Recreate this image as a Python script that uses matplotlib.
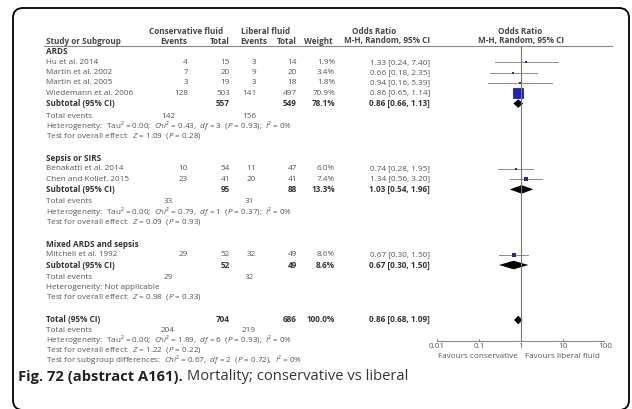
import matplotlib
matplotlib.use("Agg")
import matplotlib.pyplot as plt
from matplotlib.patches import FancyBboxPatch
import numpy as np

plt.rcParams['font.family'] = ['Open Sans', 'DejaVu Sans']
plt.rcParams['mathtext.fontset'] = 'custom'
plt.rcParams['mathtext.rm'] = 'Open Sans'
plt.rcParams['mathtext.it'] = 'Open Sans:italic'
plt.rcParams['mathtext.bf'] = 'Open Sans:bold'

# subgroups and the studies in them
groups = ["ARDS", "Sepsis or SIRS", "Mixed ARDS and sepsis"]
studies = [["Hu et al. 2014", "Martin et al. 2002", "Martin et al. 2005", "Wiedemann et al. 2006"],
           ["Benakatti et al. 2014", "Chen and Kollef. 2015"],
           ["Mitchell et al. 1992"]]
cons_events = [[4, 7, 3, 128], [10, 23], [29]]
cons_total = [[15, 20, 19, 503], [54, 41], [52]]
lib_events = [[3, 9, 3, 141], [11, 20], [32]]
lib_total = [[14, 20, 18, 497], [47, 41], [49]]
weights = [[1.9, 3.4, 1.8, 70.9], [6.0, 7.4], [8.6]]
odds = [[1.33, 0.66, 0.94, 0.86], [0.74, 1.34], [0.67]]
ci_low = [[0.24, 0.18, 0.16, 0.65], [0.28, 0.56], [0.30]]
ci_high = [[7.40, 2.35, 5.39, 1.14], [1.95, 3.20], [1.50]]

# subtotals
sub_cons_total = [557, 95, 52]
sub_lib_total = [549, 88, 49]
sub_cons_events = [142, 33, 29]
sub_lib_events = [156, 31, 32]
sub_weight = [78.1, 13.3, 8.6]
sub_or = [0.86, 1.03, 0.67]
sub_low = [0.66, 0.54, 0.30]
sub_high = [1.13, 1.96, 1.50]
sub_het = [("0.00", "0.43", "3", "0.93", "0"), ("0.00", "0.79", "1", "0.37", "0"), None]
sub_z = [("1.09", "0.28"), ("0.09", "0.93"), ("0.98", "0.33")]

# overall
total_cons_total = 704
total_lib_total = 686
total_cons_events = 204
total_lib_events = 219
total_weight = 100.0
total_or = 0.86
total_low = 0.68
total_high = 1.09
total_het = ("0.00", "1.89", "6", "0.93", "0")
total_z = ("1.22", "0.22")
subgroup_diff = ("0.67", "2", "0.72", "0")

ticks = [0.01, 0.1, 1, 10, 100]
tick_labels = ["0.01", "0.1", "1", "10", "100"]

fig = plt.figure(figsize=(6.32, 4.09), dpi=100)
ax = fig.add_axes([0, 0, 1, 1])
ax.set_xlim(0, 632)
ax.set_ylim(409, 0)
ax.axis('off')

# forest part: log axis from 0.01 to 100 between x=437 and x=605
fx = fig.add_axes([437 / 632, 0, 168 / 632, 1])
fx.set_xscale('log')
fx.set_xlim(0.01, 100)
fx.set_ylim(409, 0)
fx.axis('off')

fs = 5.9
c_txt = '#555555'
c_bold = '#333333'
c_head = '#444444'


def txt(x, y, s, ha='left', bold=False, size=fs, color=None):
    ax.text(x, y, s, ha=ha, va='center', fontsize=size,
            fontweight='bold' if bold else 'normal',
            color=color or (c_bold if bold else c_txt))


def het_str(h):
    return ("Heterogeneity:  Tau² = %s;  $Chi$² = %s,  $df$ = %s  ($P$ = %s);  $I$² = %s%%" % h)


def z_str(z):
    return "Test for overall effect:  $Z$ = %s  ($P$ = %s)" % z


def diamond(y, est, lo, hi, h=4.3):
    fx.fill([lo, est, hi, est], [y, y - h, y, y + h], color='black', lw=0)


# column positions
x_name = 46
x_ce, x_ct, x_le, x_lt, x_w, x_ci = 188, 230, 256, 297, 335, 430
x_te_c, x_te_l = 168, 249

# header
txt(186, 31, "Conservative fluid", ha='center', bold=True, color=c_head)
txt(266, 31, "Liberal fluid", ha='center', bold=True, color=c_head)
txt(374, 31, "Odds Ratio", ha='center', bold=True, color=c_head)
txt(520, 31, "Odds Ratio", ha='center', bold=True, color=c_head)
txt(x_name, 41, "Study or Subgroup", bold=True, color=c_head)
txt(187, 41, "Events", ha='right', bold=True, color=c_head)
txt(230, 41, "Total", ha='right', bold=True, color=c_head)
txt(267, 41, "Events", ha='right', bold=True, color=c_head)
txt(297, 41, "Total", ha='right', bold=True, color=c_head)
txt(333, 41, "Weight", ha='right', bold=True, color=c_head)
txt(430, 41, "M-H, Random, 95% CI", ha='right', bold=True, color=c_head)
txt(521, 41, "M-H, Random, 95% CI", ha='center', bold=True, color=c_head)
ax.plot([44, 612], [46, 46], color='#888888', lw=0.8)

step = 10.3
y = 52
for g in range(len(groups)):
    txt(x_name, y, groups[g], bold=True)
    for i, name in enumerate(studies[g]):
        yy = y + step * (i + 1)
        txt(x_name, yy, name)
        txt(x_ce, yy, str(cons_events[g][i]), ha='right')
        txt(x_ct, yy, str(cons_total[g][i]), ha='right')
        txt(x_le, yy, str(lib_events[g][i]), ha='right')
        txt(x_lt, yy, str(lib_total[g][i]), ha='right')
        txt(x_w, yy, "%.1f%%" % weights[g][i], ha='right')
        txt(x_ci, yy, "%.2f [%.2f, %.2f]" % (odds[g][i], ci_low[g][i], ci_high[g][i]), ha='right')
        fx.plot([ci_low[g][i], ci_high[g][i]], [yy, yy], color='#8a8a8a', lw=0.7)
        if weights[g][i] > 50:
            fx.plot(odds[g][i], yy, marker='s', ms=7.2, color='#1f1fd0', mec='#101070', mew=0.5)
        else:
            fx.plot(odds[g][i], yy, marker='s', ms=0.5 * np.sqrt(weights[g][i]) + 0.8,
                    color='#2a2a8a', mew=0)
    ys = y + step * (len(studies[g]) + 1)
    txt(x_name, ys, "Subtotal (95% CI)", bold=True)
    txt(x_ct, ys, str(sub_cons_total[g]), ha='right', bold=True)
    txt(x_lt, ys, str(sub_lib_total[g]), ha='right', bold=True)
    txt(x_w, ys, "%.1f%%" % sub_weight[g], ha='right', bold=True)
    txt(x_ci, ys, "%.2f [%.2f, %.2f]" % (sub_or[g], sub_low[g], sub_high[g]), ha='right', bold=True)
    diamond(ys, sub_or[g], sub_low[g], sub_high[g])
    yt = ys + 12.5
    txt(x_name, yt, "Total events")
    txt(x_te_c, yt, str(sub_cons_events[g]), ha='center')
    txt(x_te_l, yt, str(sub_lib_events[g]), ha='center')
    if sub_het[g] is None:
        txt(x_name, yt + 10, "Heterogeneity: Not applicable")
    else:
        txt(x_name, yt + 10, het_str(sub_het[g]))
    txt(x_name, yt + 20, z_str(sub_z[g]))
    y = yt + 42.5

# overall total
txt(x_name, y, "Total (95% CI)", bold=True)
txt(x_ct, y, str(total_cons_total), ha='right', bold=True)
txt(x_lt, y, str(total_lib_total), ha='right', bold=True)
txt(x_w, y, "%.1f%%" % total_weight, ha='right', bold=True)
txt(x_ci, y, "%.2f [%.2f, %.2f]" % (total_or, total_low, total_high), ha='right', bold=True)
diamond(y, total_or, total_low, total_high)
txt(x_name, y + 10, "Total events")
txt(x_te_c, y + 10, str(total_cons_events), ha='center')
txt(x_te_l, y + 10, str(total_lib_events), ha='center')
txt(x_name, y + 20, het_str(total_het))
txt(x_name, y + 30, z_str(total_z))
txt(x_name, y + 40, "Test for subgroup differences:  $Chi$² = %s,  $df$ = %s  ($P$ = %s),  $I$² = %s%%"
    % subgroup_diff)

# null line and axis
y_axis = 340.7
fx.plot([1, 1], [46, y_axis], color='#777777', lw=0.8)
fx.plot([ticks[0], ticks[-1]], [y_axis, y_axis], color='#888888', lw=0.8)
for t, lab in zip(ticks, tick_labels):
    fx.plot([t, t], [y_axis - 2, y_axis + 0.5], color='#888888', lw=0.7)
    fx.text(t, y_axis + 6, lab, ha='center', va='center', fontsize=fs, color=c_txt)
fx.text(0.82, y_axis + 16, "Favours conservative", ha='right', va='center', fontsize=fs, color=c_txt)
fx.text(1.22, y_axis + 16, "Favours liberal fluid", ha='left', va='center', fontsize=fs, color=c_txt)

# frame and caption
ax.add_patch(FancyBboxPatch((13, 8), 616, 402, boxstyle="round,pad=0,rounding_size=10",
                            fc='none', ec='black', lw=1.3, clip_on=False))
t1 = ax.text(18, 377, "Fig. 72 (abstract A161).", fontsize=10.6, fontweight='bold',
             color='#222222', va='center')
ax.annotate(" Mortality; conservative vs liberal", xy=(1, 0), xycoords=t1, va='bottom',
            fontsize=10.6, color='#333333')

fig.savefig("out.png", dpi=100)
